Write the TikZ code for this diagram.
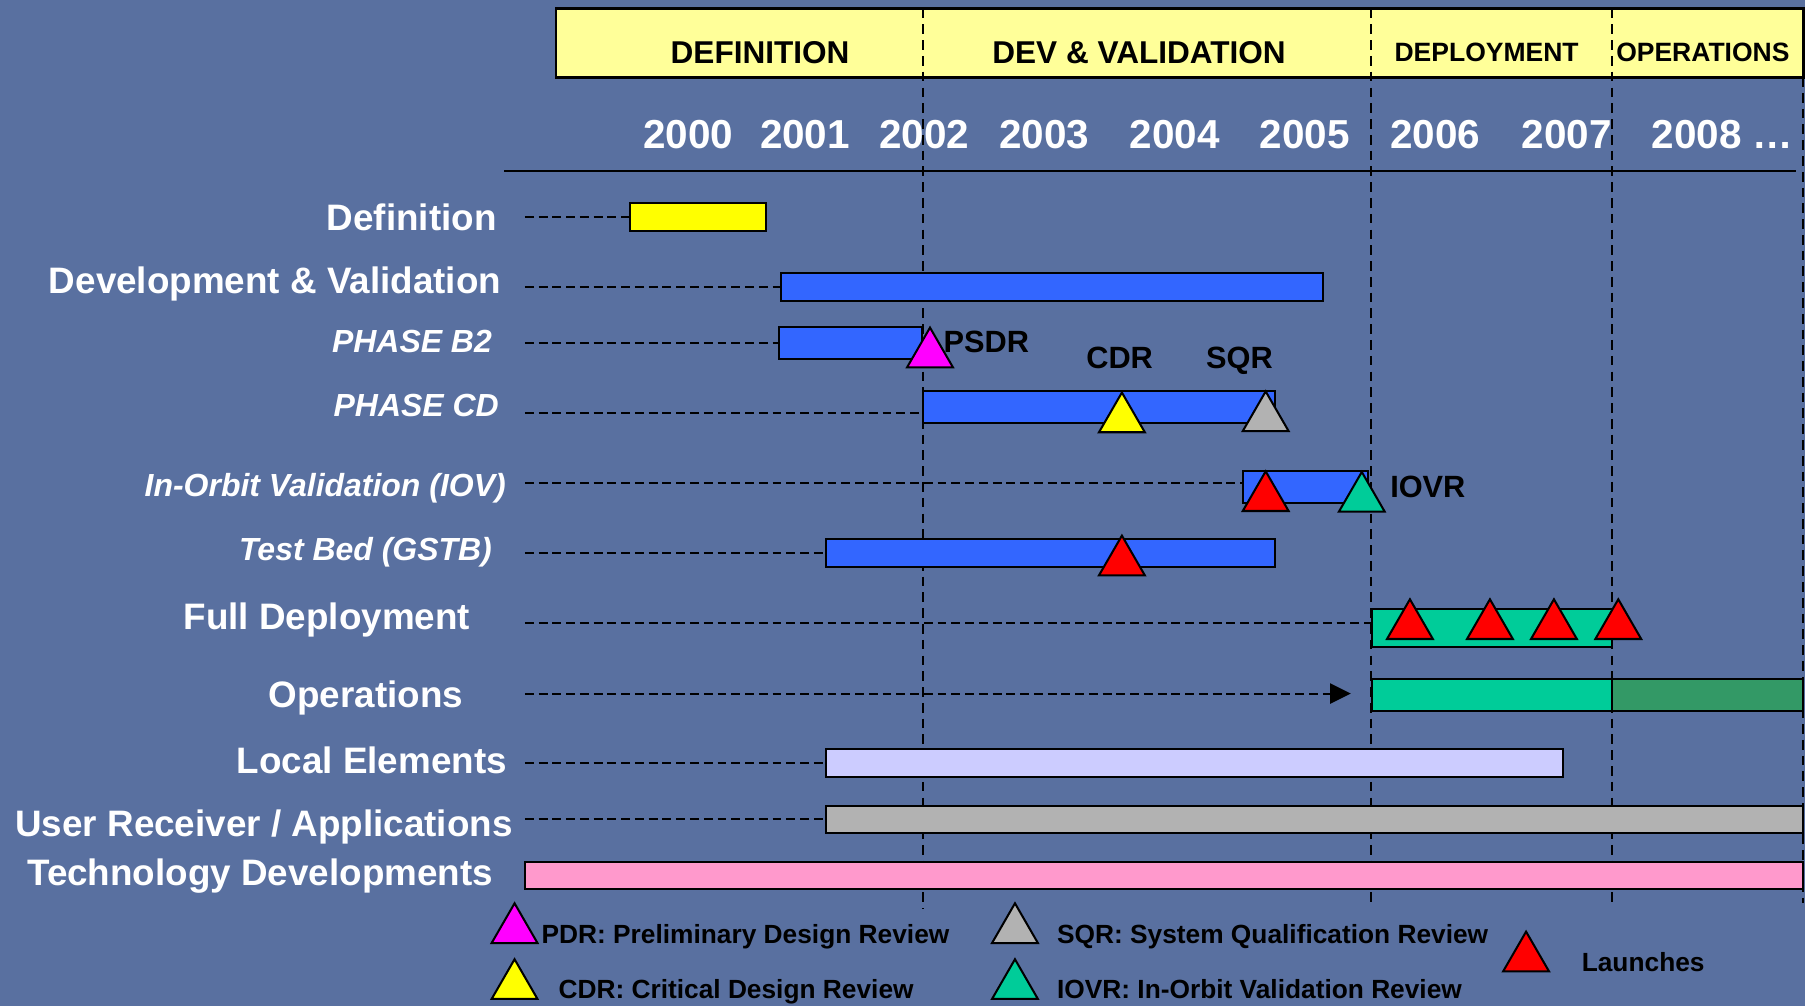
\documentclass[tikz,border=0pt]{standalone}
\usepackage{fontspec}
\setmainfont{Liberation Sans}
\usetikzlibrary{arrows.meta,positioning,fit,shapes.geometric}
\definecolor{bgBlue}{RGB}{89,112,160}
\definecolor{hdrYellow}{RGB}{255,255,153}
\definecolor{barBlue}{RGB}{51,102,255}
\definecolor{barYellow}{RGB}{255,255,0}
\definecolor{barTeal}{RGB}{0,204,153}
\definecolor{barGreen}{RGB}{51,153,102}
\definecolor{barLilac}{RGB}{204,204,255}
\definecolor{barGrey}{RGB}{178,178,178}
\definecolor{barPink}{RGB}{255,153,204}
\definecolor{msMagenta}{RGB}{255,0,255}
\definecolor{msRed}{RGB}{255,0,0}

\begin{document}
\begin{tikzpicture}[
  x=0.1mm, y=-0.1mm,
  rowlab/.style={anchor=base east, inner sep=0pt, text=white,
                 font=\fontsize{9.1}{11}\selectfont\bfseries},
  sublab/.style={rowlab, font=\fontsize{7.9}{10}\selectfont\bfseries\itshape},
  yr/.style    ={anchor=base, inner sep=0pt, text=white,
                 font=\fontsize{10}{12}\selectfont\bfseries},
  phase/.style ={anchor=base, inner sep=0pt, font=\fontsize{7.8}{10}\selectfont\bfseries},
  msl/.style   ={anchor=base west, inner sep=0pt, font=\fontsize{7.6}{9}\selectfont\bfseries},
  leg/.style   ={anchor=base west, inner sep=0pt, font=\fontsize{6.5}{8}\selectfont\bfseries},
  bar/.style   ={draw=black, line width=.5pt, inner sep=0pt, outer sep=0pt},
  lead/.style  ={draw=black, line width=.5pt, dash pattern=on 2.2pt off 1.2pt},
  vline/.style ={draw=black, line width=.5pt, dash pattern=on 2.4pt off 1.5pt},
  tri/.style   ={regular polygon, regular polygon sides=3, draw=black, line width=.5pt,
                 minimum size=4.6mm, inner sep=0pt, outer sep=0pt, anchor=corner 1},
]
\useasboundingbox (0,0) rectangle (1568,874);
\fill[bgBlue] (0,0) rectangle (1568,874);

% ============ HEADER : phases and years ============
\node[fit={(483,7.5)(1566.5,67.2)}, draw=black, line width=.7pt, fill=hdrYellow,
      inner sep=0pt] (hdr) {};
\node[phase] (ph-def) at (660.3,55)  {DEFINITION};
\node[phase] (ph-dev) at (989.5,55)  {DEV \& VALIDATION};
\node[phase, font=\fontsize{6.55}{8}\selectfont\bfseries] (ph-dep) at (1291.4,53.6) {DEPLOYMENT};
\node[phase, font=\fontsize{6.55}{8}\selectfont\bfseries] (ph-ops) at (1479.3,53.6) {OPERATIONS};

\draw[vline] (802,7.5)    -- (802,790);
\draw[vline] (1191,7.5)   -- (1191,784);
\draw[vline] (1400,7.5)   -- (1400,784);
\draw[vline] (1566.5,67)  -- (1566.5,784);

\node[yr] (y00) at (597.9,128.8)  {2000};
\node[yr] (y01) at (699.3,128.8)  {2001};
\node[yr] (y02) at (803,128.8)    {2002};
\node[yr] (y03) at (907,128.8)    {2003};
\node[yr] (y04) at (1020.3,128.8) {2004};
\node[yr] (y05) at (1133.4,128.8) {2005};
\node[yr] (y06) at (1246.6,128.8) {2006};
\node[yr] (y07) at (1360.9,128.8) {2007};
\node[yr, anchor=base west] (y08) at (1434,128.8) {2008 …};

\draw[line width=.6pt] (438,148.5) -- (1560,148.5);

% ============ ROW LABELS ============
\node[rowlab] (l-def) at (432,200)   {Definition};
\node[rowlab] (l-dev) at (436,255)   {Development \& Validation};
\node[sublab] (l-b2)  at (428,306.4) {PHASE B2};
\node[sublab] (l-cd)  at (434,362)   {PHASE CD};
\node[sublab] (l-iov) at (440,431)   {In-Orbit Validation (IOV)};
\node[sublab] (l-gst) at (428,487)   {Test Bed (GSTB)};
\node[rowlab] (l-fd)  at (409,547)   {Full Deployment};
\node[rowlab] (l-ops) at (403,615)   {Operations};
\node[rowlab] (l-loc) at (441,671.7) {Local Elements};
\node[rowlab] (l-usr) at (446,726.8) {User Receiver / Applications};
\node[rowlab] (l-tec) at (429,768.8) {Technology Developments};

% ============ BARS ============
\node[bar, fill=barYellow, fit={(547.5,176.6)(665.4,200.7)}] (b-def) {};
\node[bar, fill=barBlue,   fit={(678.4,237.4)(1149,261.8)}]  (b-dev) {};
\node[bar, fill=barBlue,   fit={(677,284)(800.6,312.1)}]     (b-b2)  {};
\node[bar, fill=barBlue,   fit={(802,339.6)(1108,367.7)}]    (b-cd)  {};
\node[bar, fill=barBlue,   fit={(1080,409.4)(1188.7,437.2)}] (b-iov) {};
\node[bar, fill=barBlue,   fit={(717.5,468.5)(1108,492.8)}]  (b-gst) {};
\node[bar, fill=barTeal,   fit={(1191.5,529.3)(1400,562.3)}] (b-fd)  {};
\node[bar, fill=barTeal,   fit={(1191.5,590.1)(1400,617.6)}] (b-opsA) {};
\node[bar, fill=barGreen,  fit={(1400,590.1)(1566.5,617.6)}] (b-opsB) {};
\node[bar, fill=barLilac,  fit={(717.5,650.9)(1358,675.2)}]  (b-loc) {};
\node[bar, fill=barGrey,   fit={(717.5,699.9)(1566.5,723.9)}] (b-usr) {};
\node[bar, fill=barPink,   fit={(455.8,748.5)(1566.5,772.5)}] (b-tec) {};

% dashed leaders
\coordinate (s-def) at (456,188.5);
\coordinate (s-dev) at (456,249.6);
\coordinate (s-b2)  at (456,298.2);
\coordinate (s-cd)  at (456,359);
\coordinate (s-iov) at (456,419.8);
\coordinate (s-gst) at (456,480.4);
\coordinate (s-fd)  at (456,541.5);
\coordinate (s-ops) at (456,602.5);
\coordinate (s-loc) at (456,663);
\coordinate (s-usr) at (456,711.7);

\draw[lead] (s-def) -- (b-def.west |- s-def);
\draw[lead] (s-dev) -- (b-dev.west |- s-dev);
\draw[lead] (s-b2)  -- (b-b2.west |- s-b2);
\draw[lead] (s-cd)  -- (b-cd.west |- s-cd);
\draw[lead] (s-iov) -- (b-iov.west |- s-iov);
\draw[lead] (s-gst) -- (b-gst.west |- s-gst);
\draw[lead] (s-fd)  -- (b-fd.west |- s-fd);
\draw[lead, -{Triangle[length=1.8mm,width=1.75mm]}, shorten >=1.8mm]
  (s-ops) -- (b-opsA.west |- s-ops);
\draw[lead] (s-loc) -- (b-loc.west |- s-loc);
\draw[lead] (s-usr) -- (b-usr.west |- s-usr);

% ============ MILESTONES ============
\node[tri, fill=msMagenta] (m-psdr) at (807.9,284.6) {};
\node[tri, fill=barYellow] (m-cdr)  at (974.6,341)   {};
\node[tri, fill=barGrey]   (m-sqr)  at (1099.5,340)  {};
\node[tri, fill=msRed]     (m-l0)   at (1099.5,409.4) {};
\node[tri, fill=barTeal]   (m-iovr) at (1183,410)    {};
\node[tri, fill=msRed]     (m-gst)  at (974.6,465.3) {};
\node[tri, fill=msRed]     (m-l1)   at (1224.8,520.6) {};
\node[tri, fill=msRed]     (m-l2)   at (1294.3,520.6) {};
\node[tri, fill=msRed]     (m-l3)   at (1349.9,520.6) {};
\node[tri, fill=msRed]     (m-l4)   at (1405.8,520.6) {};

\node[msl] (t-psdr) at (819,306.4) {PSDR};
\node[msl] (t-cdr)  at (943,320)   {CDR};
\node[msl] (t-sqr)  at (1047,320)  {SQR};
\node[msl] (t-iovr) at (1207,432)  {IOVR};

% ============ LEGEND ============
\node[tri, fill=msMagenta] (k-pdr)  at (447,784.7)   {};
\node[tri, fill=barYellow] (k-cdr)  at (447,833.3)   {};
\node[tri, fill=barGrey]   (k-sqr)  at (881.7,784.7) {};
\node[tri, fill=barTeal]   (k-iovr) at (881.7,833.3) {};
\node[tri, fill=msRed]     (k-lch)  at (1325.7,809.3) {};

\node[leg] at (469.8,819.4)  {PDR: Preliminary Design Review};
\node[leg] at (484.5,867.2)  {CDR: Critical Design Review};
\node[leg] at (917.6,819.4)  {SQR: System Qualification Review};
\node[leg] at (917.6,867.2)  {IOVR: In-Orbit Validation Review};
\node[leg] at (1373.4,844)   {Launches};

\end{tikzpicture}
\end{document}
